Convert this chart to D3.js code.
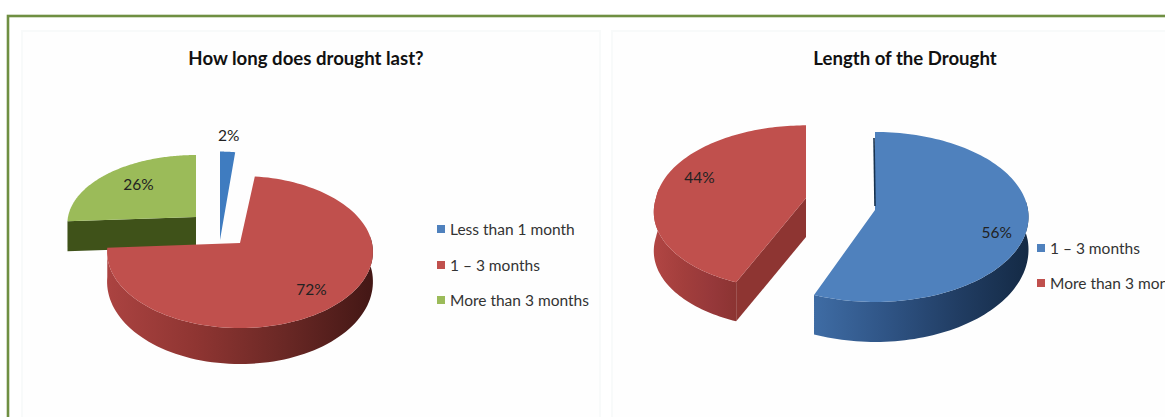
<!DOCTYPE html>
<html><head><meta charset="utf-8">
<script src="https://cdn.jsdelivr.net/npm/d3@7"></script>
<style>html,body{margin:0;padding:0;background:#fff;overflow:hidden}svg{display:block;font-family:Lato,"Open Sans",sans-serif}</style>
</head><body><svg id="c" width="1165" height="417"></svg>
<script>
// ---- data ----
const titleA = "How long does drought last?";
const categoriesA = ["Less than 1 month", "1 – 3 months", "More than 3 months"];
const valuesA = [2, 72, 26];
const titleB = "Length of the Drought";
const categoriesB = ["1 – 3 months", "More than 3 months"];
const valuesB = [56, 44];

// ---- layout (slice centres, radii, perspective) ----
const sliceA = [
 {cx:220,cy:240,rx:133,ry:97,k:.097,d:0,s:0,sk:0,order:1,color:"#3f7cc0",label:1.16,ldx:0,ldy:-4,wall:null},
 {cx:240,cy:243,rx:132,ry:75,k:.118,d:36,s:.2,sk:0,order:2,color:"#c0504d",label:.76,ldx:-2,ldy:2,
  wall:["#ab4341","#8f3532","#6a2825","#431715"],wx:[107,373]},
 {cx:196,cy:217,rx:128,ry:68,k:.097,d:30,s:0,sk:0,order:0,color:"#9bbb59",label:.62,ldx:-2,ldy:-5,radial:"#3f5219",wall:null}
];
const sliceB = [
 {cx:875,cy:210,rx:153,ry:84.4,k:.082,d:40,s:.2,sk:0,order:0,color:"#4f81bd",label:.8,ldx:0,ldy:9,
  wall:["#3e6ba3","#2f5485","#213d63","#142a45"],wx:[817,1028],edge:"#17324f"},
 {cx:806,cy:198,rx:150,ry:81,k:.115,d:39,s:0,sk:-8.6,order:1,color:"#c0504d",label:.72,ldx:-2,ldy:-10,
  wall:["#b04543","#a23e3c","#96383a","#8a3331"],wx:[656,740],radial:"#8e3532"}
];
const legendA = {x:437,text:450,ys:[229,265,300],colors:["#4f81bd","#c0504d","#9bbb59"]};
const legendB = {x:1037,text:1050,ys:[248,283],colors:["#4f81bd","#c0504d"]};

const svg = d3.select("#c");
const defs = svg.append("defs");
const pie = d3.pie().sort(null).value(d=>d);
const line = d3.line();
const TAU = Math.PI*2;
let gid = 0;

// frame and faint chart panels
svg.append("rect").attr("x",8).attr("y",16).attr("width",1300).attr("height",600)
  .attr("fill","#fff").attr("stroke","#6f8f42").attr("stroke-width",2.6);
[[22,31,578],[612,31,560]].forEach(([x,y,w])=>{
  svg.append("rect").attr("x",x).attr("y",y).attr("width",w).attr("height",420)
    .attr("fill","#fefefe").attr("stroke","#f8fafa").attr("stroke-width",2);
});

function project(s,a,f=1){
  const u=Math.sin(a), v=-Math.cos(a), w=1-s.k*v*f;
  return [s.cx+s.rx*f*u/w+s.sk*Math.max(v,0)*f, s.cy+s.ry*f*v/w];
}
const drop=(s,a)=>s.d*(1-s.s+s.s*Math.max(-Math.cos(a),0));

function drawPie(values,layout,cats){
  const arcs=pie(values).map((p,i)=>({p,s:layout[i],cat:cats[i]}));
  const g=svg.append("g");
  arcs.slice().sort((a,b)=>a.s.order-b.s.order).forEach(({p,s})=>{
    const angles=d3.range(0,121).map(i=>p.startAngle+(p.endAngle-p.startAngle)*i/120);
    const arc=angles.map(a=>project(s,a));
    if(s.radial){
      const a=p.startAngle,e=project(s,a),c=[s.cx,s.cy];
      g.append("path").attr("fill",s.radial)
       .attr("d",line([c,e,[e[0],e[1]+drop(s,a)],[c[0],c[1]+s.d*(1-s.s)]])+"Z");
    }
    if(s.wall){
      const front=angles.filter(a=>a>Math.PI*0.46&&a<Math.PI*1.54);
      const top=front.map(a=>project(s,a));
      const bot=front.map(a=>{const q=project(s,a);return [q[0],q[1]+drop(s,a)];}).reverse();
      const id="w"+(gid++);
      const lg=defs.append("linearGradient").attr("id",id).attr("gradientUnits","userSpaceOnUse")
        .attr("x1",s.wx[0]).attr("x2",s.wx[1]).attr("y1",0).attr("y2",0);
      s.wall.forEach((c,i)=>lg.append("stop").attr("offset",i/(s.wall.length-1)).attr("stop-color",c));
      g.append("path").attr("fill",`url(#${id})`).attr("d",line(top.concat(bot))+"Z");
    }
    g.append("path").attr("fill",s.color).attr("d",line([[s.cx,s.cy]].concat(arc))+"Z");
    if(s.edge){
      const q=project(s,p.startAngle);
      g.append("path").attr("stroke",s.edge).attr("stroke-width",1.6).attr("fill","none")
        .attr("d",line([[q[0]-1,q[1]+6],[s.cx,s.cy-4]]));
    }
  });
  arcs.forEach(({p,s})=>{
    const q=project(s,(p.startAngle+p.endAngle)/2,s.label);
    const pct=Math.round((p.endAngle-p.startAngle)/TAU*100);
    g.append("text").attr("x",q[0]+s.ldx).attr("y",q[1]+s.ldy).attr("text-anchor","middle")
     .attr("dominant-baseline","central").attr("font-size",15.5).attr("fill","#222").text(pct+"%");
  });
}

function legend(cats,l){
  cats.forEach((c,i)=>{
    svg.append("rect").attr("x",l.x).attr("y",l.ys[i]-4).attr("width",8).attr("height",8).attr("fill",l.colors[i]);
    svg.append("text").attr("x",l.text).attr("y",l.ys[i]).attr("dominant-baseline","central")
      .attr("font-size",15.5).attr("fill","#333").text(c);
  });
}
function title(t,x){
  svg.append("text").attr("x",x).attr("y",58).attr("text-anchor","middle").attr("dominant-baseline","central")
    .attr("font-size",18.6).attr("font-weight",700).attr("fill","#111").text(t);
}

drawPie(valuesA,sliceA,categoriesA);
drawPie(valuesB,sliceB,categoriesB);
legend(categoriesA,legendA);
legend(categoriesB,legendB);
title(titleA,306);
title(titleB,905);
</script></body></html>
